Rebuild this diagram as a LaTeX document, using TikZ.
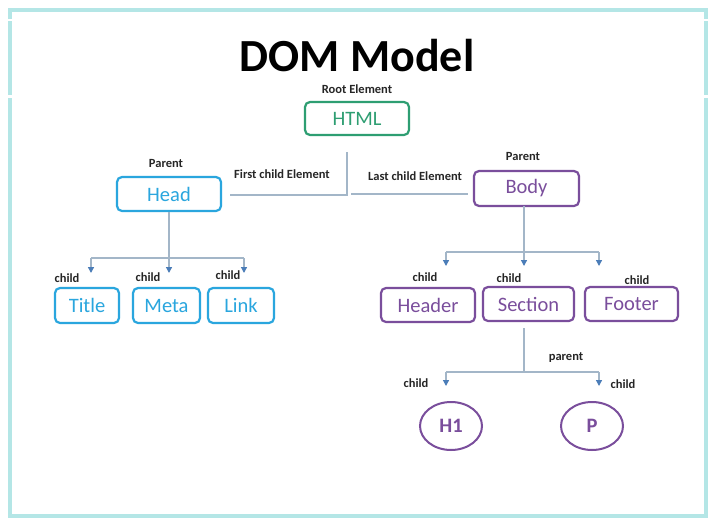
\documentclass[tikz,border=0pt]{standalone}
\usepackage{fontspec}
\setmainfont{Carlito}
\usetikzlibrary{shapes.geometric,arrows.meta}
\definecolor{frame}{HTML}{B4E6E6}
\definecolor{htmlgreen}{HTML}{2E9E72}
\definecolor{headblue}{HTML}{2AA6DE}
\definecolor{bodypurple}{HTML}{7A4E9C}
\definecolor{conn}{HTML}{A3B6C8}
\definecolor{tipblue}{HTML}{4B7DB8}
\tikzset{
  box/.style={draw, line width=2.2pt, rounded corners=5pt, inner sep=0pt, font=\fontsize{20.5}{23}\selectfont},
  greenbox/.style={box, draw=htmlgreen, text=htmlgreen},
  bluebox/.style={box, draw=headblue, text=headblue},
  purplebox/.style={box, draw=bodypurple, text=bodypurple},
  oval/.style={ellipse, draw=bodypurple, line width=2pt, text=bodypurple, inner sep=0pt, minimum width=62pt, minimum height=48pt, font=\bfseries\fontsize{20.5}{23}\selectfont},
  lbl/.style={font=\bfseries\fontsize{12.5}{14}\selectfont, inner sep=0pt, text=black!85},
  conline/.style={draw=conn, line width=1.3pt},
  arr/.style={conline, -{Triangle[width=6pt,length=6pt,fill=tipblue,color=tipblue]}}
}
\begin{document}
\begin{tikzpicture}[x=1pt,y=-1pt]
\useasboundingbox (0,0) rectangle (717,522);
\fill[white] (0,0) rectangle (717,522);
% frame
\draw[frame, line width=4pt] (10,19) -- (10,10) -- (706,10) -- (706,19);
\draw[frame, line width=4pt] (10,21) -- (10,95);
\draw[frame, line width=4pt] (706,21) -- (706,95);
\draw[frame, line width=4pt] (10,98) -- (10,516) -- (706,516) -- (706,98);

% title
\node[font=\bfseries\fontsize{46}{50}\selectfont, inner sep=0pt, text depth=0pt] (title) at (357,55) {DOM Model};
\node[lbl] (root) at (357,89) {Root Element};

% boxes
\node[greenbox, minimum width=104pt, minimum height=33pt] (html) at (357,118.5) {HTML};
\node[bluebox, minimum width=104pt, minimum height=34pt] (head) at (169,194) {Head};
\node[purplebox, minimum width=105pt, minimum height=35pt] (body) at (526.5,188.5) {Body};

\node[bluebox, minimum width=64pt, minimum height=35pt] (titlebox) at (87,305.5) {Title};
\node[bluebox, minimum width=67pt, minimum height=35pt] (meta) at (166.5,305.5) {Meta};
\node[bluebox, minimum width=66pt, minimum height=35pt] (link) at (241,305.5) {Link};

\node[purplebox, minimum width=94pt, minimum height=34pt] (header) at (428,305) {Header};
\node[purplebox, minimum width=91pt, minimum height=34pt] (section) at (528.5,304) {Section};
\node[purplebox, minimum width=93pt, minimum height=34pt] (footer) at (631.5,304) {Footer};

\node[oval] (h1) at (451,426) {H1};
\node[oval] (p) at (592,426) {P};

% labels
\node[lbl] (lpar1) at (166,163) {Parent};
\node[lbl] (lfirst) at (282,174) {First child Element};
\node[lbl] (llast) at (415,176) {Last child Element};
\node[lbl] (lpar2) at (523,156) {Parent};
\node[lbl] (lc1) at (67,278) {child};
\node[lbl] (lc2) at (148,277) {child};
\node[lbl] (lc3) at (228,275) {child};
\node[lbl] (lc4) at (425,277) {child};
\node[lbl] (lc5) at (509,278) {child};
\node[lbl] (lc6) at (637,280) {child};
\node[lbl] (lpar3) at (566,358) {parent};
\node[lbl] (lc7) at (416,383) {child};
\node[lbl] (lc8) at (623,384) {child};

% root connectors
\coordinate (rtop) at (347,152);
\coordinate (rbot) at (347,195);
\coordinate (lend) at (230,195);
\coordinate (rstart) at (351,194);
\coordinate (rend) at (468,194);
\draw[conline] (rtop) -- (rbot) -- (lend);
\draw[conline] (rstart) -- (rend);

% head children
\coordinate (hj) at (head.south |- 0,258);
\coordinate (hl) at (91,258);
\coordinate (hr) at (244,258);
\draw[conline] (head.south) -- (hj);
\draw[conline] (hl) -- (hr);
\draw[arr] (hl) -- (91,273);
\draw[arr] (hj) -- (169,273);
\draw[arr] (hr) -- (244,273);

% body children
\coordinate (bj) at (524,252);
\coordinate (bl) at (446,252);
\coordinate (br) at (599,252);
\draw[conline] (524,206) -- (bj);
\draw[conline] (bl) -- (br);
\draw[arr] (bl) -- (446,266);
\draw[arr] (bj) -- (524,266);
\draw[arr] (br) -- (599,266);

% section children
\coordinate (sj) at (524,372);
\coordinate (sl) at (446,372);
\coordinate (sr) at (599,372);
\draw[conline] (524,328) -- (sj);
\draw[conline] (sl) -- (sr);
\draw[arr] (sl) -- (446,386);
\draw[arr] (sr) -- (599,386);
\end{tikzpicture}
\end{document}
